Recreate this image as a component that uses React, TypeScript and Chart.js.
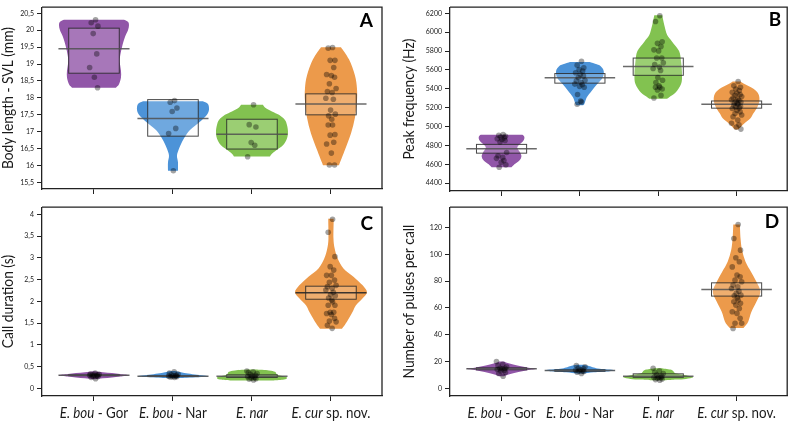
import React, { useEffect, useRef } from 'react';
import { Chart, registerables } from 'chart.js';

Chart.register(...registerables);

// ---------- shared ----------
const GROUP_ITALIC = ['E. bou', 'E. bou', 'E. nar', 'E. cur'];
const GROUP_SUFFIX = [' - Gor', ' - Nar', '', ' sp. nov.'];
const GROUP_COLORS = ['#9156A8', '#4C93D8', '#82C250', '#EC9A4B'];
const CATEGORY_TICKS = [0, 1, 2, 3];
// fixed horizontal jitter pattern (category units), reused cyclically
const JITTER = [0.02, -0.035, 0.05, -0.01, 0.035, -0.055, 0.005, 0.045, -0.02, 0.065, -0.045, 0.015, -0.065, 0.03, -0.005, 0.055, -0.03, 0.01];

// ---------- Panel A : Body length - SVL (mm) ----------
const SVL_TICKS = [15.5, 16, 16.5, 17, 17.5, 18, 18.5, 19, 19.5, 20, 20.5];
const SVL_POINTS = [
  [20.31, 20.22, 20.12, 19.9, 19.3, 18.9, 18.61, 18.3],
  [17.92, 17.87, 17.7, 17.6, 17.1, 16.95, 15.85],
  [17.8, 17.21, 17.14, 16.68, 16.6, 16.26],
  [19.49, 19.47, 19.11, 19.11, 18.9, 18.69, 18.66, 18.61, 18.42, 18.28, 18.19, 18.16, 17.99, 17.96, 17.64, 17.52, 17.47, 17.37, 17.2, 17.2, 16.92, 16.9, 16.69, 16.64, 16.37, 16.02, 16.02],
];
const SVL_BOX_LOW = [18.73, 16.87, 16.49, 17.5];
const SVL_BOX_HIGH = [20.06, 17.95, 17.37, 18.12];
const SVL_CENTER = [19.45, 17.39, 16.93, 17.82];
const SVL_VIOLIN_LEVELS = [
  [20.31, 20.25, 20.15, 20.0, 19.8, 19.5, 19.2, 19.0, 18.8, 18.6, 18.4, 18.3],
  [17.9, 17.82, 17.65, 17.5, 17.35, 17.2, 17.05, 16.9, 16.7, 16.5, 16.3, 16.1, 15.85],
  [17.8, 17.72, 17.6, 17.5, 17.35, 17.2, 17.0, 16.8, 16.6, 16.45, 16.35, 16.27],
  [19.5, 19.14, 18.66, 18.28, 17.9, 17.42, 16.95, 16.47, 16.09, 16.01],
];
const SVL_VIOLIN_DENSITY = [
  [30, 34, 35, 34, 31, 28, 26, 26, 27, 27, 25, 22],
  [30, 35, 36, 34, 29, 23, 17, 13, 9, 6, 4, 5, 5],
  [11, 13, 20, 27, 33, 35, 36, 35, 31, 24, 20, 18],
  [10, 18, 24, 26, 26, 24, 20, 14, 9, 8],
];

// ---------- Panel B : Peak frequency (Hz) ----------
const FREQ_TICKS = [4400, 4600, 4800, 5000, 5200, 5400, 5600, 5800, 6000, 6200];
const FREQ_POINTS = [
  [4915, 4908, 4898, 4890, 4880, 4870, 4863, 4853, 4836, 4725, 4690, 4673, 4663, 4639, 4622, 4594, 4568],
  [5692, 5651, 5623, 5605, 5589, 5571, 5553, 5537, 5519, 5491, 5485, 5467, 5450, 5443, 5426, 5416, 5340, 5270, 5260, 5236],
  [6175, 6113, 5899, 5882, 5848, 5813, 5802, 5726, 5726, 5675, 5657, 5630, 5616, 5595, 5519, 5491, 5467, 5433, 5416, 5416, 5398, 5388, 5330, 5302],
  [5478, 5433, 5416, 5398, 5381, 5364, 5353, 5340, 5330, 5319, 5305, 5294, 5284, 5277, 5267, 5260, 5250, 5243, 5236, 5226, 5215, 5208, 5198, 5191, 5174, 5156, 5139, 5122, 5104, 5070, 5035, 5018, 4994, 4973],
];
const FREQ_BOX_LOW = [4718, 5460, 5543, 5195];
const FREQ_BOX_HIGH = [4811, 5562, 5726, 5271];
const FREQ_CENTER = [4766, 5516, 5637, 5236];
const FREQ_VIOLIN_LEVELS = [
  [4912, 4890, 4850, 4800, 4770, 4720, 4680, 4640, 4600, 4568],
  [5685, 5660, 5640, 5590, 5520, 5450, 5380, 5310, 5240, 5226],
  [6180, 6080, 5970, 5900, 5800, 5690, 5550, 5450, 5360, 5310, 5294],
  [5478, 5450, 5400, 5346, 5277, 5208, 5140, 5087, 5035, 4983, 4970],
];
const FREQ_VIOLIN_DENSITY = [
  [21, 23, 22, 17, 16, 19, 20, 18, 13, 10],
  [10, 17, 21, 24, 23, 17.5, 12, 7, 4.5, 3],
  [4, 6, 9, 14, 21, 23, 24, 23, 17.5, 11, 9],
  [4, 8, 17, 22, 23, 21, 17, 14, 8, 3, 2],
];

// ---------- Panel C : Call duration (s) ----------
const DUR_TICKS = [0, 0.5, 1, 1.5, 2, 2.5, 3, 3.5, 4];
const DUR_POINTS = [
  [0.22, 0.25, 0.27, 0.28, 0.29, 0.3, 0.3, 0.31, 0.31, 0.32, 0.33, 0.35],
  [0.25, 0.26, 0.27, 0.27, 0.28, 0.28, 0.29, 0.3, 0.31, 0.33, 0.35, 0.38],
  [0.19, 0.21, 0.22, 0.24, 0.25, 0.27, 0.28, 0.3, 0.32, 0.34, 0.36, 0.38, 0.4],
  [3.89, 3.59, 3.03, 2.8, 2.72, 2.6, 2.6, 2.49, 2.44, 2.37, 2.34, 2.3, 2.26, 2.21, 2.16, 2.13, 2.08, 2.03, 1.99, 1.91, 1.91, 1.75, 1.75, 1.72, 1.7, 1.61, 1.55, 1.53, 1.45, 1.38],
];
const DUR_BOX_LOW = [0.29, 0.27, 0.25, 2.05];
const DUR_BOX_HIGH = [0.31, 0.29, 0.31, 2.35];
const DUR_CENTER = [0.3, 0.28, 0.28, 2.2];
const DUR_VIOLIN_LEVELS = [
  [0.39, 0.37, 0.35, 0.33, 0.3, 0.27, 0.25, 0.23, 0.21],
  [0.4, 0.37, 0.34, 0.31, 0.29, 0.27, 0.26, 0.24],
  [0.43, 0.41, 0.38, 0.35, 0.32, 0.29, 0.26, 0.23, 0.2, 0.18],
  [3.9, 3.87, 3.45, 3.22, 2.99, 2.76, 2.57, 2.37, 2.21, 2.07, 1.91, 1.76, 1.61, 1.46, 1.37],
];
const DUR_VIOLIN_DENSITY = [
  [1, 9, 18, 26, 35, 26, 18, 9, 1],
  [2, 8, 15, 24, 33, 35, 30, 10],
  [4, 17, 23, 24, 25, 29, 34, 35, 32, 22],
  [2.5, 2.7, 2.5, 3.7, 6.7, 12.5, 22.5, 31.7, 36, 31.7, 25, 21.7, 18, 14, 11],
];

// ---------- Panel D : Number of pulses per call ----------
const PULSE_TICKS = [0, 20, 40, 60, 80, 100, 120];
const PULSE_POINTS = [
  [9, 11, 12, 13, 13.5, 14, 14.5, 15, 15, 16, 17, 18, 20],
  [11, 12, 12.5, 13, 13, 13.5, 14, 14.5, 15, 16, 17],
  [6, 6.5, 7, 7.5, 8, 8, 8.5, 9, 10, 11, 12, 13, 15],
  [122.2, 111.8, 103.1, 97.4, 94.4, 90.6, 84.5, 83.2, 80.7, 79.5, 77, 75.7, 74.5, 72.5, 70.8, 69.5, 69, 67.5, 65.8, 64.6, 63.4, 62.1, 59.6, 57.1, 55.9, 52.2, 48.5, 48.5, 44.7],
];
const PULSE_BOX_LOW = [13.8, 12.7, 8.2, 68.8];
const PULSE_BOX_HIGH = [15.3, 13.8, 10.8, 78.7];
const PULSE_CENTER = [14.5, 13.2, 9.0, 73.8];
const PULSE_VIOLIN_LEVELS = [
  [20, 18.5, 17, 15.5, 14.5, 13.5, 12, 10.5, 9],
  [17.5, 16.5, 15.5, 14.5, 13.5, 12.8, 12, 11],
  [15, 14, 13, 12, 11, 10, 9, 8, 7, 6.5, 6],
  [122.2, 111.8, 103, 94.4, 86.9, 79.5, 72, 64.6, 57.1, 49.7, 45.9, 45],
];
const PULSE_VIOLIN_DENSITY = [
  [2, 8, 16, 26, 35, 26, 16, 8, 2],
  [3, 10, 14, 20, 35, 30, 14, 4],
  [3, 12, 15, 16, 18, 26, 33, 35, 28, 18, 8],
  [3.3, 4, 5.5, 9, 14.5, 20, 24, 20, 15, 11.7, 8, 7],
];

// ---------- layout / style ----------
const FONT = 'Lato, "Open Sans", sans-serif';
const DENSITY_TO_UNITS = 1 / 79;
const BOX_HALF = 0.32;
const LINE_HALF = 0.45;
const X_MIN = -0.658;
const X_MAX = 3.646;
const TITLE_SQUEEZE = 0.95;
const LABEL_SQUEEZE = 0.92;

type Panel = {
  key: string; left: number; top: number; width: number; height: number;
  pad: { top: number; right: number }; yWidth: number; xHeight: number;
  yMin: number; yMax: number; ticks: number[]; title: string; titleX: number;
  letter: string; letterDx: number; letterDy: number; labels: boolean;
  points: number[][]; low: number[]; high: number[]; center: number[];
  levels: number[][]; density: number[][]; centerDark: boolean;
};

const PANELS: Panel[] = [
  { key: 'A', left: 0, top: 0, width: 395, height: 200, pad: { top: 1, right: 13 }, yWidth: 42, xHeight: 11,
    yMin: 15.309, yMax: 20.68, ticks: SVL_TICKS, title: 'Body length - SVL (mm)', titleX: 8,
    letter: 'A', letterDx: 9, letterDy: 20, labels: false,
    points: SVL_POINTS, low: SVL_BOX_LOW, high: SVL_BOX_HIGH, center: SVL_CENTER,
    levels: SVL_VIOLIN_LEVELS, density: SVL_VIOLIN_DENSITY, centerDark: false },
  { key: 'B', left: 395, top: 0, width: 395, height: 200, pad: { top: 3, right: 2 }, yWidth: 55, xHeight: 9,
    yMin: 4317, yMax: 6265, ticks: FREQ_TICKS, title: 'Peak frequency (Hz)', titleX: 14,
    letter: 'B', letterDx: 6, letterDy: 19, labels: false,
    points: FREQ_POINTS, low: FREQ_BOX_LOW, high: FREQ_BOX_HIGH, center: FREQ_CENTER,
    levels: FREQ_VIOLIN_LEVELS, density: FREQ_VIOLIN_DENSITY, centerDark: false },
  { key: 'C', left: 0, top: 200, width: 395, height: 222, pad: { top: 7, right: 13 }, yWidth: 42, xHeight: 26,
    yMin: -0.177, yMax: 4.168, ticks: DUR_TICKS, title: 'Call duration (s)', titleX: 8,
    letter: 'C', letterDx: 9, letterDy: 23, labels: true,
    points: DUR_POINTS, low: DUR_BOX_LOW, high: DUR_BOX_HIGH, center: DUR_CENTER,
    levels: DUR_VIOLIN_LEVELS, density: DUR_VIOLIN_DENSITY, centerDark: true },
  { key: 'D', left: 395, top: 200, width: 395, height: 222, pad: { top: 7, right: 2 }, yWidth: 55, xHeight: 26,
    yMin: -5.74, yMax: 135.13, ticks: PULSE_TICKS, title: 'Number of pulses per call', titleX: 14,
    letter: 'D', letterDx: 8, letterDy: 21, labels: true,
    points: PULSE_POINTS, low: PULSE_BOX_LOW, high: PULSE_BOX_HIGH, center: PULSE_CENTER,
    levels: PULSE_VIOLIN_LEVELS, density: PULSE_VIOLIN_DENSITY, centerDark: false },
];

function catmull(ctx: CanvasRenderingContext2D, pts: number[][], move: boolean) {
  if (move) ctx.moveTo(pts[0][0], pts[0][1]);
  else ctx.lineTo(pts[0][0], pts[0][1]);
  for (let i = 0; i < pts.length - 1; i++) {
    const p0 = pts[Math.max(i - 1, 0)];
    const p1 = pts[i];
    const p2 = pts[i + 1];
    const p3 = pts[Math.min(i + 2, pts.length - 1)];
    ctx.bezierCurveTo(
      p1[0] + (p2[0] - p0[0]) / 6, p1[1] + (p2[1] - p0[1]) / 6,
      p2[0] - (p3[0] - p1[0]) / 6, p2[1] - (p3[1] - p1[1]) / 6,
      p2[0], p2[1]
    );
  }
}

function buildConfig(p: Panel): any {
  const violinPlugin = {
    id: 'violins' + p.key,
    beforeDatasetsDraw(chart: any) {
      const { ctx, chartArea } = chart;
      const xs = chart.scales.x;
      const ys = chart.scales.y;
      ctx.save();
      ctx.beginPath();
      ctx.rect(chartArea.left, chartArea.top, chartArea.right - chartArea.left, chartArea.bottom - chartArea.top);
      ctx.clip();
      p.levels.forEach((levels, g) => {
        const dens = p.density[g];
        const right = levels.map((lv, i) => [xs.getPixelForValue(g + dens[i] * DENSITY_TO_UNITS), ys.getPixelForValue(lv)]);
        const left = levels.map((lv, i) => [xs.getPixelForValue(g - dens[i] * DENSITY_TO_UNITS), ys.getPixelForValue(lv)]).reverse();
        ctx.beginPath();
        catmull(ctx, right, true);
        catmull(ctx, left, false);
        ctx.closePath();
        ctx.fillStyle = GROUP_COLORS[g];
        ctx.fill();
      });
      p.low.forEach((lo, g) => {
        const x0 = xs.getPixelForValue(g - BOX_HALF);
        const x1 = xs.getPixelForValue(g + BOX_HALF);
        const yT = ys.getPixelForValue(p.high[g]);
        const yB = ys.getPixelForValue(lo);
        ctx.fillStyle = 'rgba(255,255,255,0.2)';
        ctx.fillRect(x0, yT, x1 - x0, yB - yT);
        ctx.strokeStyle = 'rgba(40,40,40,0.85)';
        ctx.lineWidth = 1;
        ctx.strokeRect(x0, yT, x1 - x0, yB - yT);
        const yc = ys.getPixelForValue(p.center[g]);
        ctx.beginPath();
        ctx.moveTo(xs.getPixelForValue(g - LINE_HALF), yc);
        ctx.lineTo(xs.getPixelForValue(g + LINE_HALF), yc);
        ctx.strokeStyle = p.centerDark && g === 3 ? 'rgba(40,40,40,0.9)' : 'rgba(80,80,80,0.85)';
        ctx.lineWidth = 1.5;
        ctx.stroke();
      });
      ctx.restore();
    },
    afterDraw(chart: any) {
      const { ctx, chartArea } = chart;
      const xs = chart.scales.x;
      ctx.save();
      // top & right frame
      ctx.strokeStyle = '#222';
      ctx.lineWidth = 1.3;
      ctx.beginPath();
      ctx.moveTo(chartArea.left, chartArea.top);
      ctx.lineTo(chartArea.right, chartArea.top);
      ctx.lineTo(chartArea.right, chartArea.bottom);
      ctx.stroke();
      // panel letter
      ctx.fillStyle = '#000';
      ctx.font = `bold 19px ${FONT}`;
      ctx.textAlign = 'right';
      ctx.textBaseline = 'alphabetic';
      ctx.fillText(p.letter, chartArea.right - p.letterDx, chartArea.top + p.letterDy);
      // y title
      ctx.save();
      ctx.translate(p.titleX, (chartArea.top + chartArea.bottom) / 2);
      ctx.rotate(-Math.PI / 2);
      ctx.scale(TITLE_SQUEEZE, 1);
      ctx.font = `14.5px ${FONT}`;
      ctx.fillStyle = '#1a1a1a';
      ctx.textAlign = 'center';
      ctx.textBaseline = 'middle';
      ctx.fillText(p.title, 0, 0);
      ctx.restore();
      // category labels (mixed italic / roman)
      if (p.labels) {
        ctx.fillStyle = '#1a1a1a';
        ctx.textBaseline = 'middle';
        ctx.textAlign = 'left';
        const y = chartArea.bottom + 17;
        CATEGORY_TICKS.forEach((c, i) => {
          ctx.font = `italic 14.5px ${FONT}`;
          const w1 = ctx.measureText(GROUP_ITALIC[i]).width;
          ctx.font = `14.5px ${FONT}`;
          const w2 = ctx.measureText(GROUP_SUFFIX[i]).width;
          const x = xs.getPixelForValue(c) - ((w1 + w2) * LABEL_SQUEEZE) / 2;
          ctx.save();
          ctx.translate(x, y);
          ctx.scale(LABEL_SQUEEZE, 1);
          ctx.font = `italic 14.5px ${FONT}`;
          ctx.fillText(GROUP_ITALIC[i], 0, 0);
          ctx.font = `14.5px ${FONT}`;
          ctx.fillText(GROUP_SUFFIX[i], w1, 0);
          ctx.restore();
        });
      }
      ctx.restore();
    },
  };

  return {
    type: 'scatter',
    data: {
      datasets: p.points.map((vals, g) => ({
        label: GROUP_ITALIC[g] + GROUP_SUFFIX[g],
        data: vals.map((v, i) => ({ x: g + JITTER[i % JITTER.length], y: v })),
        pointRadius: 2.8,
        pointHoverRadius: 2.8,
        backgroundColor: 'rgba(0,0,0,0.36)',
        borderWidth: 0,
      })),
    },
    options: {
      animation: false,
      responsive: false,
      maintainAspectRatio: false,
      events: [],
      layout: { padding: { left: 0, top: p.pad.top, right: p.pad.right, bottom: 0 } },
      plugins: { legend: { display: false }, tooltip: { enabled: false } },
      scales: {
        x: {
          type: 'linear',
          min: X_MIN,
          max: X_MAX,
          afterBuildTicks: (s: any) => { s.ticks = CATEGORY_TICKS.map((v) => ({ value: v })); },
          afterFit: (s: any) => { s.height = p.xHeight; },
          ticks: { callback: () => '', padding: 0 },
          grid: { drawOnChartArea: false, tickLength: 5, color: '#222', lineWidth: 1 },
          border: { color: '#222', width: 1.3 },
        },
        y: {
          type: 'linear',
          min: p.yMin,
          max: p.yMax,
          afterBuildTicks: (s: any) => { s.ticks = p.ticks.map((v) => ({ value: v })); },
          afterFit: (s: any) => { s.width = p.yWidth; },
          ticks: {
            callback: (v: number) => String(v).replace('.', ','),
            font: { family: FONT, size: 7 },
            color: '#222',
            padding: 3,
          },
          grid: { drawOnChartArea: false, tickLength: 5, color: '#222', lineWidth: 1 },
          border: { color: '#222', width: 1.3 },
        },
      },
    },
    plugins: [violinPlugin],
  };
}

function PanelChart({ panel }: { panel: Panel }) {
  const ref = useRef<HTMLCanvasElement>(null);
  useEffect(() => {
    if (!ref.current) return;
    const chart = new Chart(ref.current, buildConfig(panel));
    return () => chart.destroy();
  }, [panel]);
  return (
    <canvas
      ref={ref}
      width={panel.width}
      height={panel.height}
      style={{ position: 'absolute', left: panel.left, top: panel.top, width: panel.width, height: panel.height }}
    />
  );
}

export default function App() {
  return (
    <div style={{ position: 'absolute', left: 0, top: 0, width: 790, height: 422, background: '#fff', overflow: 'hidden' }}>
      {PANELS.map((p) => (
        <PanelChart key={p.key} panel={p} />
      ))}
    </div>
  );
}
